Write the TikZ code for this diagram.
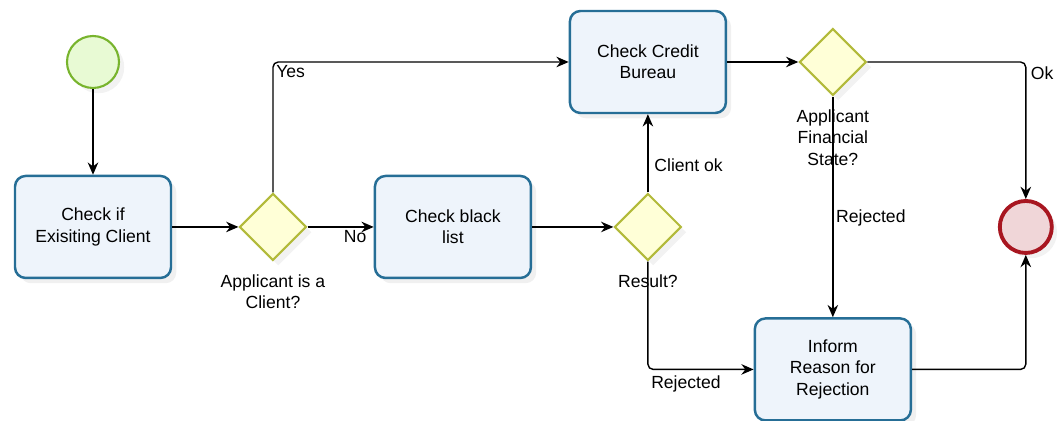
\documentclass[tikz,border=0pt]{standalone}
\usepackage{fontspec}
\setmainfont{Liberation Sans}
\usetikzlibrary{shapes.geometric,arrows.meta,shadows}

\definecolor{taskline}{RGB}{38,110,150}
\definecolor{taskfill}{RGB}{238,244,251}
\definecolor{gateline}{RGB}{178,186,58}
\definecolor{gatefill}{RGB}{255,255,215}
\definecolor{startline}{RGB}{120,180,45}
\definecolor{startfill}{RGB}{232,250,212}
\definecolor{endline}{RGB}{168,22,32}
\definecolor{endfill}{RGB}{240,214,216}

\begin{document}
\begin{tikzpicture}[
                        x = 0.02cm, y = -0.02cm,
                        > = {Stealth[length=7pt, width=6pt]},
                        node distance = 3.6cm,
                        line width = 0.8pt,
                        font = \fontsize{10}{12}\selectfont,
                        every label/.style = {align = center, yshift = -4pt}
                        ]

                        \tikzstyle{task}=[
                                draw = taskline,
                                line width = 1.4pt,
                                rounded corners = 6pt,
                                fill = taskfill,
                                align = center,
                                minimum width = 3.12cm,
                                minimum height = 2.04cm,
                                drop shadow = {opacity = 0.12, shadow xshift = 3pt, shadow yshift = -3pt}
                        ]

                        \tikzstyle{gate}=[
                                draw = gateline,
                                line width = 1.2pt,
                                diamond,
                                aspect = 1,
                                fill = gatefill,
                                inner sep = 0pt,
                                minimum size = 1.34cm,
                                drop shadow = {opacity = 0.1, shadow xshift = 3pt, shadow yshift = -3pt}
                        ]

                        \tikzstyle{event}=[
                                circle,
                                inner sep = 0pt,
                                minimum size = 1.04cm,
                                drop shadow = {opacity = 0.1, shadow xshift = 3pt, shadow yshift = -3pt}
                        ]

                        \useasboundingbox (0,0) rectangle (1062,421);

                        \node[event, draw = startline, line width = 1.2pt, fill = startfill] (s) at (93,62) {};
                        \node[task] (1) [below of=s, node distance=3.3cm] {Check if\\Exisiting Client};
                        \node[gate] (2) [right of=1, label=below:{Applicant is a\\Client?}] {};
                        \node[task] (3) [right of=2] {Check black\\list};
                        \node[gate] (4) [right of=3, node distance=3.9cm, label=below:Result?] {};
                        \node[task] (5) [above of=4, node distance=3.3cm] {Check Credit\\Bureau};
                        \node[gate] (6) [right of=5, node distance=3.7cm, label=below:{Applicant\\Financial\\State?}] {};
                        \node[task] (7) [below of=6, node distance=6.15cm] {Inform\\Reason for\\Rejection};
                        \node[event, draw = endline, line width = 2.2pt, fill = endfill] (8) [right of=4, node distance=7.56cm] {};

                        \draw[->] (s) -- (1);
                        \draw[->] (1) -- (2);
                        \draw[->, rounded corners = 3pt] (2) |- (5) node[pos=0.5, below right, inner sep=1.5pt] {Yes};
                        \draw[->] (2) -- (3) node[pos=0.72, below, inner sep=1.5pt] {No};
                        \draw[->] (3) -- (4);
                        \draw[->] (4) -- (5) node[pos=0.35, right] {Client ok};
                        \draw[->, rounded corners = 3pt] (4) |- (7) node[pos=0.68, below] {Rejected};
                        \draw[->] (5) -- (6);
                        \draw[->] (6) -- (7) node[pos=0.55, right, inner sep=1.5pt] {Rejected};
                        \draw[->, rounded corners = 3pt] (6) -| (8) node[pos=0.5, below right, inner sep=2.5pt] {Ok};
                        \draw[->, rounded corners = 3pt] (7) -| (8);
                \end{tikzpicture}
\end{document}
